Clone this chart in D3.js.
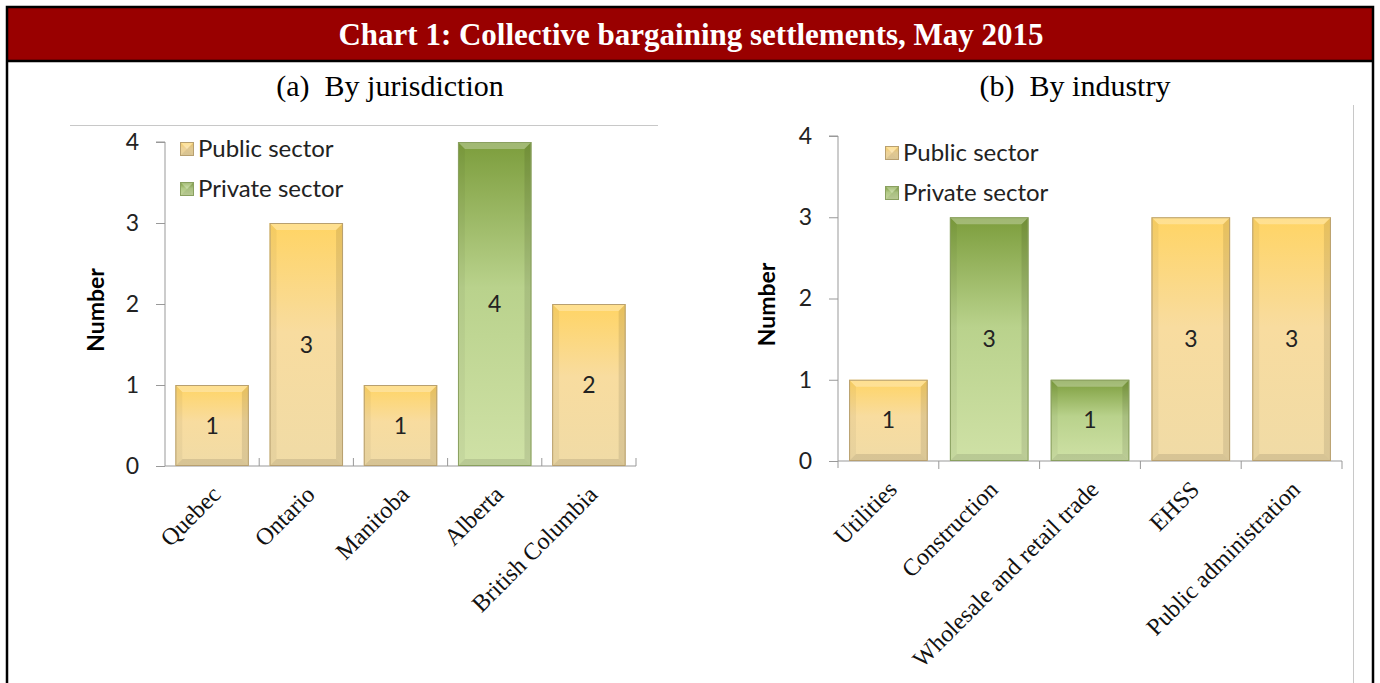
<!DOCTYPE html>
<html>
<head>
<meta charset="utf-8">
<script src="https://cdn.jsdelivr.net/npm/d3@7"></script>
<style>
  body { margin: 0; background: #fff; }
  svg { display: block; }
</style>
</head>
<body>
<div id="chart"></div>
<script>
// datos del grafico
const jurisdictions = ['Quebec', 'Ontario', 'Manitoba', 'Alberta', 'British Columbia'];
const jurisdictionValues = [1, 3, 1, 4, 2];
const jurisdictionSectors = ['public', 'public', 'public', 'private', 'public'];

const industries = ['Utilities', 'Construction', 'Wholesale and retail trade', 'EHSS', 'Public administration'];
const industryValues = [1, 3, 1, 3, 3];
const industrySectors = ['public', 'private', 'private', 'public', 'public'];

const yTicks = [0, 1, 2, 3, 4];
const legendLabels = ['Public sector', 'Private sector'];
const legendSectors = ['public', 'private'];

const W = 1380, H = 683;
const sans = 'Lato, "Open Sans", sans-serif';
const serif = '"Liberation Serif", "DejaVu Serif", serif';

const svg = d3.select('#chart').append('svg')
    .attr('width', W)
    .attr('height', H);

// gradientes tipo Excel
const defs = svg.append('defs');
function gradient(id, stops) {
    let g = defs.append('linearGradient')
        .attr('id', id)
        .attr('x1', 0).attr('y1', 0).attr('x2', 0).attr('y2', 1);
    stops.forEach(s => g.append('stop').attr('offset', s[0]).attr('stop-color', s[1]));
}
gradient('g-public', [[0, '#ffd464'], [0.45, '#f8dc9f'], [1, '#f0dba6']]);
gradient('g-private', [[0, '#7c9d3c'], [0.45, '#b9d28c'], [1, '#cfe1a6']]);

const strokeColor = { public: '#b8a070', private: '#8aa060' };

// marco y cabecera
svg.append('rect')
    .attr('x', 0).attr('y', 0).attr('width', W).attr('height', H)
    .attr('fill', '#fff');
svg.append('rect')
    .attr('x', 8).attr('y', 8).attr('width', 1364).attr('height', 53)
    .attr('fill', '#990000');
svg.append('rect')
    .attr('x', 7).attr('y', 7).attr('width', 1366).attr('height', H + 10)
    .attr('fill', 'none').attr('stroke', '#000').attr('stroke-width', 2.5);
svg.append('line')
    .attr('x1', 7).attr('x2', 1373).attr('y1', 61).attr('y2', 61)
    .attr('stroke', '#000').attr('stroke-width', 2.5);

svg.append('text')
    .attr('x', 691).attr('y', 45)
    .attr('text-anchor', 'middle')
    .attr('fill', '#fff')
    .style('font-family', serif)
    .style('font-weight', 'bold')
    .style('font-size', '31px')
    .text('Chart 1: Collective bargaining settlements, May 2015');

// barra con biselado
function bevelBar(g, x, y, w, h, sector) {
    let b = Math.min(7, h / 2, w / 2);
    g.append('rect')
        .attr('x', x).attr('y', y).attr('width', w).attr('height', h)
        .attr('fill', 'url(#g-' + sector + ')');
    // bisel superior
    g.append('path')
        .attr('d', `M${x},${y}L${x + w},${y}L${x + w - b},${y + b}L${x + b},${y + b}Z`)
        .attr('fill', '#fff').attr('fill-opacity', 0.28);
    // lados
    g.append('path')
        .attr('d', `M${x},${y}L${x + b},${y + b}L${x + b},${y + h - b}L${x},${y + h}Z`)
        .attr('fill', '#000').attr('fill-opacity', 0.04);
    g.append('path')
        .attr('d', `M${x + w},${y}L${x + w - b},${y + b}L${x + w - b},${y + h - b}L${x + w},${y + h}Z`)
        .attr('fill', '#000').attr('fill-opacity', 0.09);
    // bisel inferior
    g.append('path')
        .attr('d', `M${x},${y + h}L${x + b},${y + h - b}L${x + w - b},${y + h - b}L${x + w},${y + h}Z`)
        .attr('fill', '#000').attr('fill-opacity', 0.1);
    g.append('rect')
        .attr('x', x + 0.5).attr('y', y + 0.5).attr('width', w - 1).attr('height', h - 1)
        .attr('fill', 'none')
        .attr('stroke', strokeColor[sector]).attr('stroke-width', 1);
}

function panel(cfg) {
    let g = svg.append('g');

    g.append('text')
        .attr('x', cfg.titleX).attr('y', 96)
        .attr('text-anchor', 'middle')
        .style('font-family', serif)
        .style('font-size', '30px')
        .style('white-space', 'pre')
        .attr('fill', '#000')
        .text(cfg.title);

    let x = d3.scaleBand()
        .domain(cfg.categories)
        .range([cfg.x0, cfg.x1])
        .paddingInner(0.22)
        .paddingOuter(0.11);

    let y = d3.scaleLinear()
        .domain([0, 4])
        .range([cfg.y0, cfg.y4]);

    // eje Y
    let yAxis = d3.axisLeft(y).tickValues(yTicks).tickSize(9).tickPadding(17).tickFormat(d3.format('d'));
    let ya = g.append('g')
        .attr('transform', `translate(${cfg.x0},0)`)
        .call(yAxis);
    ya.select('.domain').attr('stroke', '#999').attr('d', `M-9,${cfg.y4}H0V${cfg.y0 + cfg.yExt}`);
    ya.selectAll('.tick line').attr('stroke', '#999');
    ya.selectAll('.tick text')
        .style('font-family', sans)
        .style('font-size', '23px')
        .attr('fill', '#222');

    // eje X con marcas en los limites de categoria
    let step = x.step();
    let bounds = d3.range(cfg.categories.length + 1).map(i => cfg.x0 + i * step);
    g.append('line')
        .attr('x1', cfg.x0).attr('x2', cfg.x1)
        .attr('y1', cfg.y0).attr('y2', cfg.y0)
        .attr('stroke', '#999');
    g.selectAll('.xtick')
        .data(bounds.slice(1))
        .join('line')
        .attr('x1', d => d).attr('x2', d => d)
        .attr('y1', cfg.y0).attr('y2', cfg.y0 + cfg.tickDir * 8)
        .attr('stroke', '#999');

    // barras
    cfg.categories.forEach((c, i) => {
        let v = cfg.values[i];
        bevelBar(g, x(c), y(v), x.bandwidth(), cfg.y0 - y(v), cfg.sectors[i]);
    });

    g.selectAll('.val')
        .data(cfg.values)
        .join('text')
        .attr('x', (d, i) => x(cfg.categories[i]) + x.bandwidth() / 2)
        .attr('y', d => (y(d) + cfg.y0) / 2 + 8)
        .attr('text-anchor', 'middle')
        .style('font-family', sans)
        .style('font-size', '23px')
        .attr('fill', '#222')
        .text(d => d);

    // etiquetas de categoria
    g.selectAll('.cat')
        .data(cfg.categories)
        .join('text')
        .attr('text-anchor', 'end')
        .attr('transform', d => `translate(${x(d) + x.bandwidth() / 2 + 10},${cfg.y0 + 30}) rotate(-45)`)
        .style('font-family', serif)
        .style('font-size', '24px')
        .attr('fill', '#111')
        .text(d => d);

    // titulo eje
    g.append('text')
        .attr('transform', `translate(${cfg.yTitleX},${(cfg.y0 + cfg.y4) / 2 + 6}) rotate(-90)`)
        .attr('text-anchor', 'middle')
        .style('font-family', sans)
        .style('font-weight', 'bold')
        .style('font-size', '23px')
        .attr('fill', '#000')
        .text('Number');

    // leyenda
    let leg = g.selectAll('.legend-item')
        .data(legendLabels)
        .join('g')
        .attr('class', 'legend-item')
        .attr('transform', (d, i) => `translate(${cfg.legX},${cfg.legY + i * 40})`);
    leg.each(function (d, i) {
        bevelBar(d3.select(this), 0, -8, 14, 14, legendSectors[i]);
    });
    leg.append('text')
        .attr('x', 18).attr('y', 7)
        .style('font-family', sans)
        .style('font-size', '24px')
        .attr('fill', '#222')
        .text(d => d);

    return g;
}

// (a) por jurisdiccion
let pa = panel({
    title: '(a)  By jurisdiction', titleX: 390,
    categories: jurisdictions, values: jurisdictionValues, sectors: jurisdictionSectors,
    x0: 165, x1: 636, y0: 466, y4: 142, yExt: 0, tickDir: -1,
    yTitleX: 104, legX: 180, legY: 150
});
pa.append('line')
    .attr('x1', 70).attr('x2', 658).attr('y1', 125.5).attr('y2', 125.5)
    .attr('stroke', '#c8c8c8');

// (b) por industria
let pb = panel({
    title: '(b)  By industry', titleX: 1075,
    categories: industries, values: industryValues, sectors: industrySectors,
    x0: 838, x1: 1342, y0: 461, y4: 136, yExt: 7, tickDir: 1,
    yTitleX: 775, legX: 885, legY: 154
});
pb.append('line')
    .attr('x1', 1353.5).attr('x2', 1353.5).attr('y1', 105).attr('y2', H)
    .attr('stroke', '#c8c8c8');
</script>
</body>
</html>
